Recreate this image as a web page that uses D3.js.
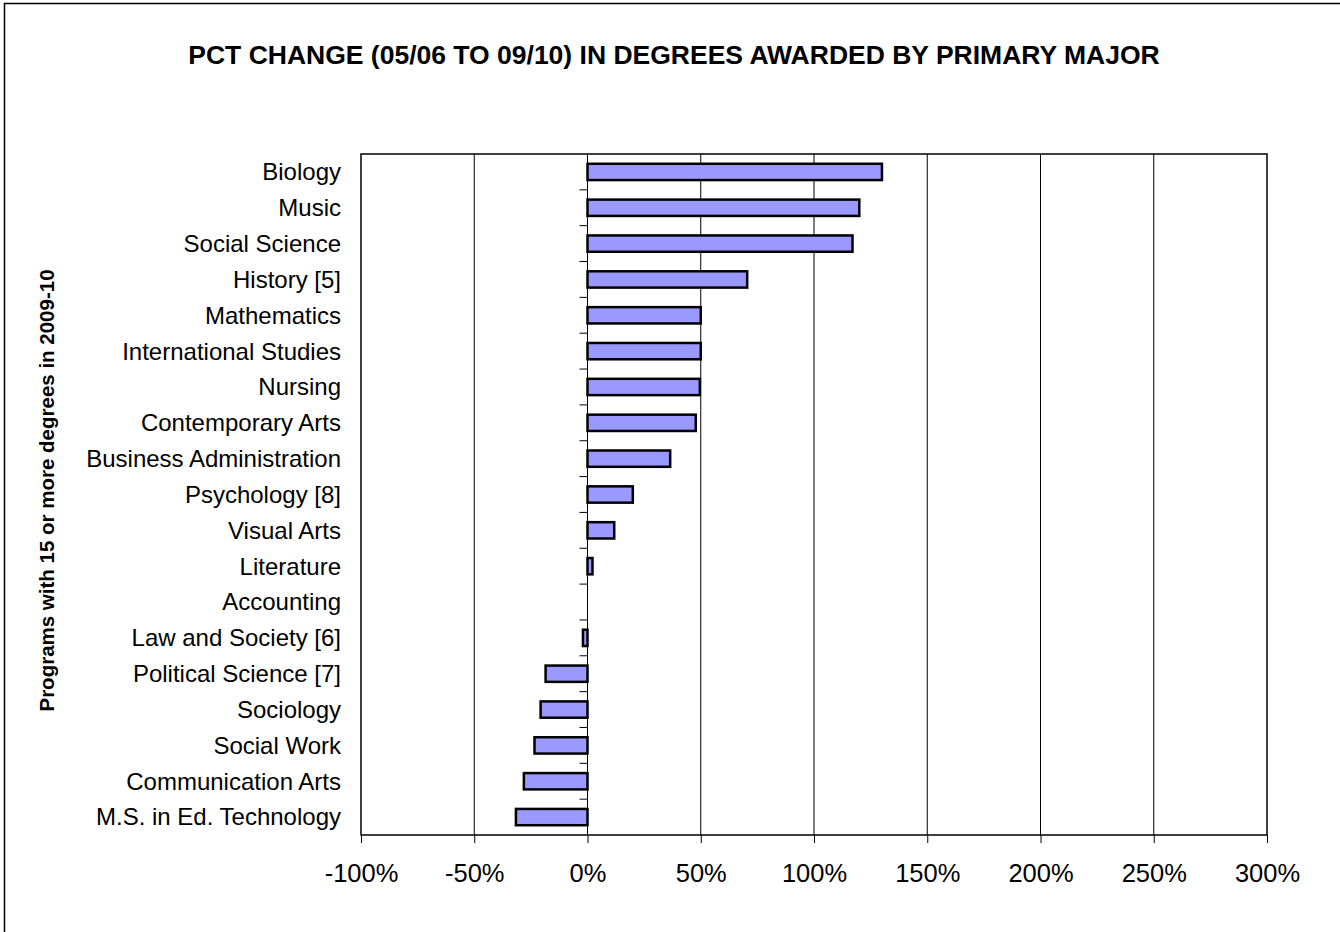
<!DOCTYPE html>
<html>
<head>
<meta charset="utf-8">
<script src="https://cdn.jsdelivr.net/npm/d3@7"></script>
<style>
  html, body { margin: 0; padding: 0; background: #fff; }
  svg { display: block; }
  text { font-family: "Liberation Sans", Arial, sans-serif; fill: #000; }
</style>
</head>
<body>
<svg id="chart" width="1340" height="932"></svg>
<script>
const categories = [
  "Biology", "Music", "Social Science", "History [5]", "Mathematics",
  "International Studies", "Nursing", "Contemporary Arts", "Business Administration",
  "Psychology [8]", "Visual Arts", "Literature", "Accounting", "Law and Society [6]",
  "Political Science [7]", "Sociology", "Social Work", "Communication Arts",
  "M.S. in Ed. Technology"
];
const values = [
  1.30, 1.20, 1.17, 0.705, 0.50,
  0.50, 0.496, 0.478, 0.365,
  0.20, 0.118, 0.022, 0.0, -0.02,
  -0.185, -0.207, -0.234, -0.281,
  -0.316
];
const xTicks = [-1, -0.5, 0, 0.5, 1, 1.5, 2, 2.5, 3];
const xTickLabels = ["-100%", "-50%", "0%", "50%", "100%", "150%", "200%", "250%", "300%"];
const titleText = "PCT CHANGE (05/06 TO 09/10) IN DEGREES AWARDED BY PRIMARY MAJOR";
const yTitleText = "Programs with 15 or more degrees in 2009-10";

const svg = d3.select("#chart");
const plot = { left: 361, right: 1267, top: 154, bottom: 835 };

// outer chart border
svg.append("rect")
  .attr("x", 4.5).attr("y", 3.5)
  .attr("width", 1340).attr("height", 940)
  .attr("fill", "#fff").attr("stroke", "#000").attr("stroke-width", 1.5);

const x = d3.scaleLinear().domain([-1, 3]).range([plot.left, plot.right]);
const y = d3.scaleBand().domain(categories).range([plot.top, plot.bottom])
  .paddingInner(0.545).paddingOuter(0.2725);
const step = y.step();

// gridlines
svg.append("g").selectAll("line")
  .data(xTicks.slice(1, -1))
  .join("line")
  .attr("x1", d => x(d)).attr("x2", d => x(d))
  .attr("y1", plot.top).attr("y2", plot.bottom)
  .attr("stroke", "#000").attr("stroke-width", 1);

// plot border
svg.append("rect")
  .attr("x", plot.left).attr("y", plot.top)
  .attr("width", plot.right - plot.left).attr("height", plot.bottom - plot.top)
  .attr("fill", "none").attr("stroke", "#000").attr("stroke-width", 1.5);

// x axis
const xAxis = d3.axisBottom(x).tickValues(xTicks)
  .tickFormat((d, i) => xTickLabels[i]).tickSize(8).tickPadding(21);
const gx = svg.append("g").attr("transform", `translate(0,${plot.bottom})`).call(xAxis);
gx.select(".domain").remove();
gx.selectAll(".tick line").attr("stroke", "#000");
gx.selectAll(".tick text").attr("font-size", 25.5).attr("fill", "#000")
  .style("font-family", '"Liberation Sans", Arial, sans-serif');

// category axis ticks (at band boundaries along zero line)
const boundaries = d3.range(1, categories.length).map(i => plot.top + i * step);
svg.append("g").selectAll("line")
  .data(boundaries)
  .join("line")
  .attr("x1", x(0) - 8).attr("x2", x(0))
  .attr("y1", d => d).attr("y2", d => d)
  .attr("stroke", "#000").attr("stroke-width", 1);

// zero axis line
svg.append("line")
  .attr("x1", x(0)).attr("x2", x(0))
  .attr("y1", plot.top).attr("y2", plot.bottom)
  .attr("stroke", "#000").attr("stroke-width", 1);

// category labels
svg.append("g").selectAll("text")
  .data(categories)
  .join("text")
  .attr("x", plot.left - 20)
  .attr("y", d => y(d) + y.bandwidth() / 2)
  .attr("dy", "0.35em")
  .attr("text-anchor", "end")
  .attr("font-size", 24)
  .text(d => d);

// bars
svg.append("g").selectAll("rect")
  .data(categories.map((c, i) => ({ c, v: values[i] })))
  .join("rect")
  .attr("x", d => Math.min(x(0), x(d.v)))
  .attr("y", d => y(d.c))
  .attr("width", d => Math.abs(x(d.v) - x(0)))
  .attr("height", y.bandwidth())
  .attr("fill", "#9999FF")
  .attr("stroke", "#000")
  .attr("stroke-width", 2.5);

// title
svg.append("text")
  .attr("x", 674).attr("y", 64)
  .attr("text-anchor", "middle")
  .attr("font-size", 26.5).attr("font-weight", "bold")
  .text(titleText);

// y axis title
svg.append("text")
  .attr("transform", `translate(54,${(plot.top + plot.bottom) / 2 - 4}) rotate(-90)`)
  .attr("text-anchor", "middle")
  .attr("font-size", 20.5).attr("font-weight", "bold")
  .text(yTitleText);
</script>
</body>
</html>
